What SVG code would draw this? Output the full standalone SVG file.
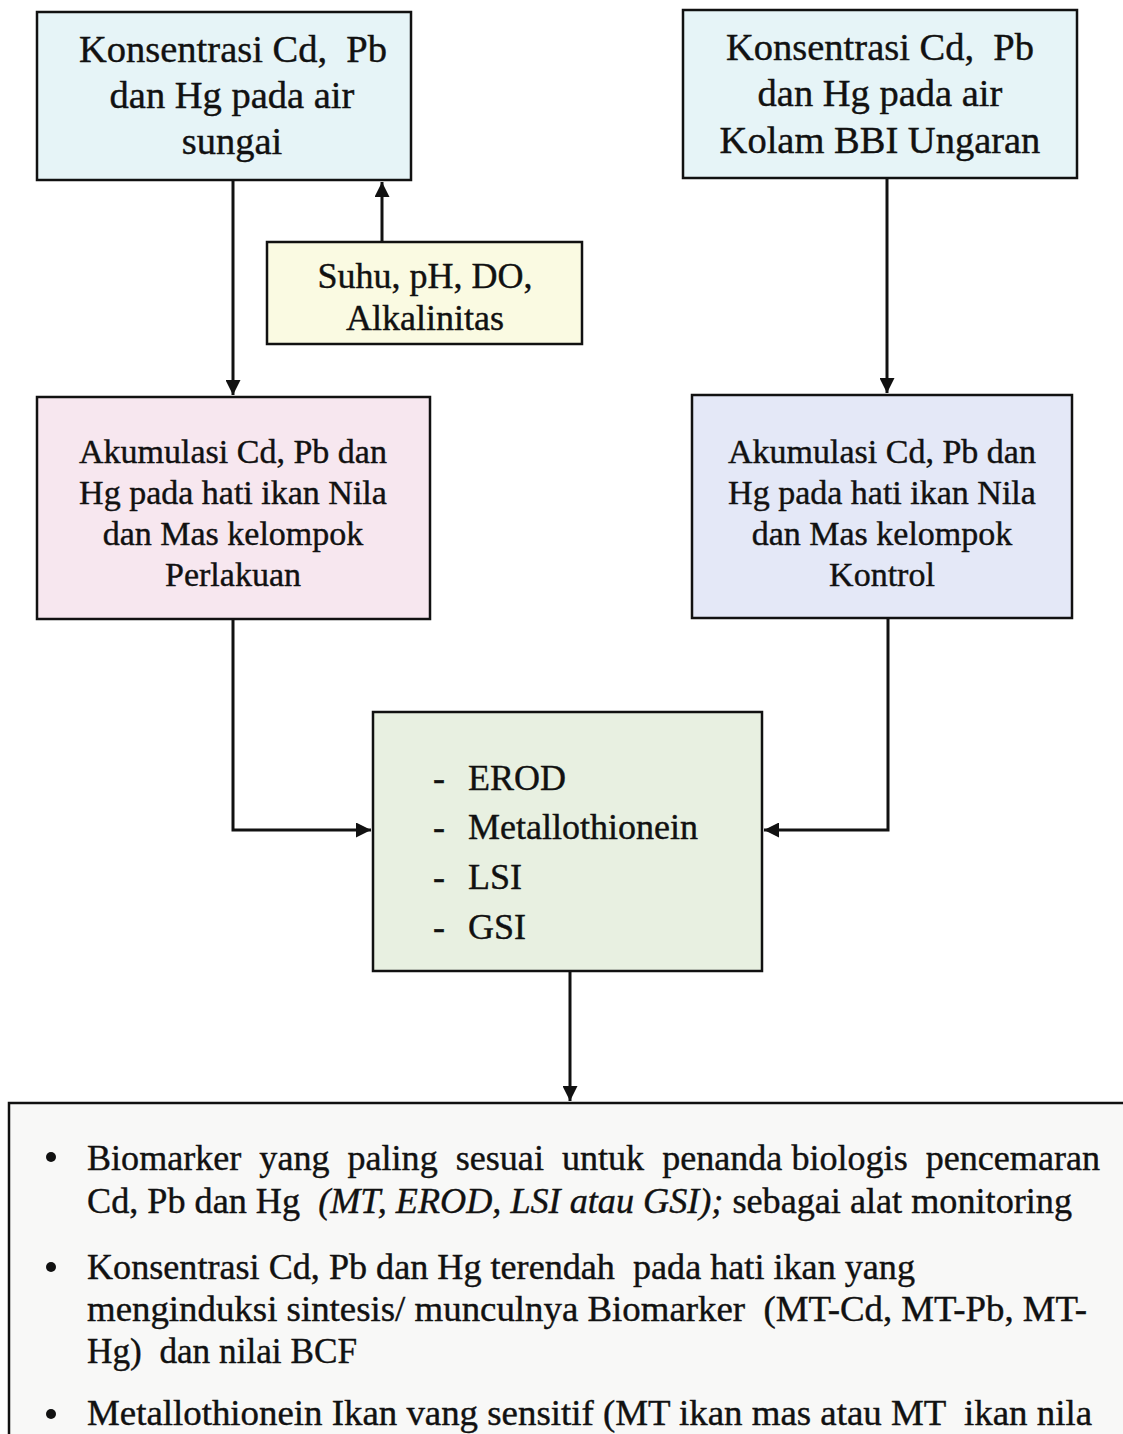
<svg xmlns="http://www.w3.org/2000/svg" width="1123" height="1434" viewBox="0 0 1123 1434">
<style>
.box{stroke:#111;stroke-width:2.5}
text{font-family:"Liberation Serif","Times New Roman",serif;fill:#111;stroke:#111;stroke-width:0.4;white-space:pre}
.t{text-anchor:middle}
.t38{font-size:38.5px}
.t34{font-size:34px}
.t36{font-size:36px}
.l{font-size:36px}
.c{fill:none;stroke:#111;stroke-width:3}
</style>
<defs>
<marker id="ah" viewBox="0 0 10 10" refX="10" refY="5" markerWidth="5" markerHeight="5" orient="auto" markerUnits="strokeWidth">
<path d="M0,0 L10,5 L0,10 z" fill="#111"/>
</marker>
</defs>
<rect width="1123" height="1434" fill="#ffffff"/>
<g id="n1">
<rect class="box" x="37" y="12" width="374" height="168" fill="#e6f4f7"/>
<text class="t t38" x="233" y="62">Konsentrasi Cd,  Pb</text>
<text class="t t38" x="232" y="108">dan Hg pada air</text>
<text class="t t38" x="232" y="154">sungai</text>
</g>
<g id="n2">
<rect class="box" x="683" y="10" width="394" height="168" fill="#e6f4f7"/>
<text class="t t38" x="880" y="60">Konsentrasi Cd,  Pb</text>
<text class="t t38" x="880" y="106">dan Hg pada air</text>
<text class="t t38" x="880" y="153">Kolam BBI Ungaran</text>
</g>
<g id="n3">
<rect class="box" x="267" y="242" width="315" height="102" fill="#fafae2"/>
<text class="t t36" x="425" y="288">Suhu, pH, DO,</text>
<text class="t t36" x="425" y="330">Alkalinitas</text>
</g>
<g id="n4">
<rect class="box" x="37" y="397" width="393" height="222" fill="#f7e7ef"/>
<text class="t t34" x="233" y="463">Akumulasi Cd, Pb dan</text>
<text class="t t34" x="233" y="504">Hg pada hati ikan Nila</text>
<text class="t t34" x="233" y="545">dan Mas kelompok</text>
<text class="t t34" x="233" y="586">Perlakuan</text>
</g>
<g id="n5">
<rect class="box" x="692" y="395" width="380" height="223" fill="#e4e8f7"/>
<text class="t t34" x="882" y="463">Akumulasi Cd, Pb dan</text>
<text class="t t34" x="882" y="504">Hg pada hati ikan Nila</text>
<text class="t t34" x="882" y="545">dan Mas kelompok</text>
<text class="t t34" x="882" y="586">Kontrol</text>
</g>
<g id="n6">
<rect class="box" x="373" y="712" width="389" height="259" fill="#e8f0e1"/>
<text class="l" x="433" y="790">-</text><text class="l" x="468" y="790">EROD</text>
<text class="l" x="433" y="839">-</text><text class="l" x="468" y="839">Metallothionein</text>
<text class="l" x="433" y="889">-</text><text class="l" x="468" y="889">LSI</text>
<text class="l" x="433" y="939">-</text><text class="l" x="468" y="939">GSI</text>
</g>
<g id="n7">
<rect class="box" x="9" y="1103" width="1130" height="350" fill="#f8f8f7"/>
<circle cx="51" cy="1157" r="5" fill="#111"/>
<text class="l" x="87" y="1170" textLength="1013" lengthAdjust="spacingAndGlyphs">Biomarker  yang  paling  sesuai  untuk  penanda biologis  pencemaran</text>
<text class="l" x="87" y="1213" textLength="985" lengthAdjust="spacingAndGlyphs">Cd, Pb dan Hg  <tspan font-style="italic">(MT, EROD, LSI atau GSI);</tspan> sebagai alat monitoring</text>
<circle cx="51" cy="1267" r="5" fill="#111"/>
<text class="l" x="87" y="1279" textLength="828" lengthAdjust="spacingAndGlyphs">Konsentrasi Cd, Pb dan Hg terendah  pada hati ikan yang</text>
<text class="l" x="87" y="1321" textLength="1000" lengthAdjust="spacingAndGlyphs">menginduksi sintesis/ munculnya Biomarker  (MT-Cd, MT-Pb, MT-</text>
<text class="l" x="87" y="1363" textLength="270" lengthAdjust="spacingAndGlyphs">Hg)  dan nilai BCF</text>
<circle cx="51" cy="1414" r="5" fill="#111"/>
<text class="l" x="87" y="1425" textLength="1005" lengthAdjust="spacingAndGlyphs">Metallothionein Ikan vang sensitif (MT ikan mas atau MT  ikan nila</text>
</g>
<g id="connectors">
<path class="c" d="M233,180 V395" marker-end="url(#ah)"/>
<path class="c" d="M382,242 V182" marker-end="url(#ah)"/>
<path class="c" d="M887,178 V393" marker-end="url(#ah)"/>
<path class="c" d="M233,619 V830 H371" marker-end="url(#ah)"/>
<path class="c" d="M888,618 V830 H764" marker-end="url(#ah)"/>
<path class="c" d="M570,971 V1101" marker-end="url(#ah)"/>
</g>
</svg>
